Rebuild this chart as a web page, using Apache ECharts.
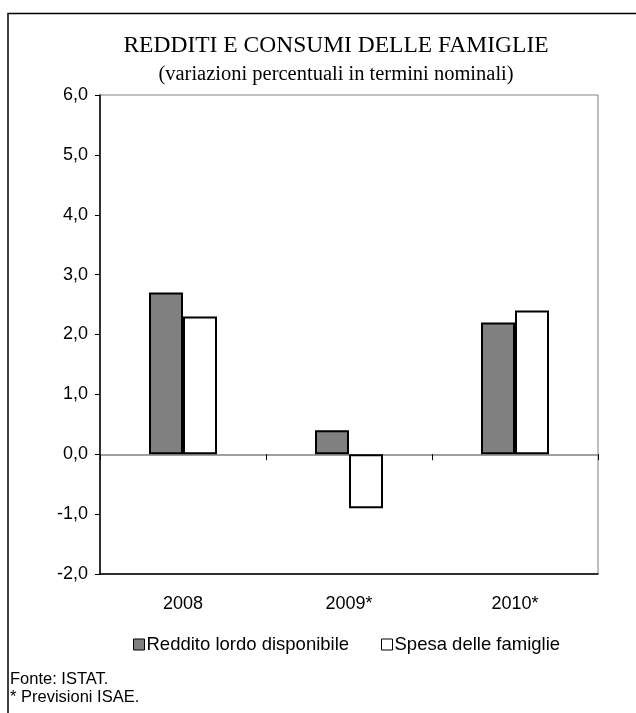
<!DOCTYPE html>
<html>
<head>
<meta charset="utf-8">
<script src="https://cdn.jsdelivr.net/npm/echarts@6/dist/echarts.min.js"></script>
<style>
html,body{margin:0;padding:0;background:#fff;}
#c{width:636px;height:713px;}
</style>
</head>
<body>
<div id="c"></div>
<script>
var categories = ['2008', '2009*', '2010*'];
var reddito = [2.7, 0.4, 2.2];
var spesa = [2.3, -0.9, 2.4];
var seriesNames = ['Reddito lordo disponibile', 'Spesa delle famiglie'];
var yTicks = [-2, -1, 0, 1, 2, 3, 4, 5, 6];

var chart = echarts.init(document.getElementById('c'), null, {renderer: 'canvas'});
var sans = 'Arial, "Liberation Sans", sans-serif';
var serif = '"Times New Roman", "Liberation Serif", serif';
chart.setOption({
  animation: false,
  backgroundColor: '#fff',
  title: [
    {text: 'REDDITI E CONSUMI DELLE FAMIGLIE', left: 331, top: 29, textAlign: 'center',
     textStyle: {fontFamily: serif, fontSize: 23.5, fontWeight: 'normal', color: '#000'}},
    {text: '(variazioni percentuali in termini nominali)', left: 331, top: 59, textAlign: 'center',
     textStyle: {fontFamily: serif, fontSize: 20.5, fontWeight: 'normal', color: '#000'}},
    {text: 'Fonte: ISTAT.\n* Previsioni ISAE.', left: 5, top: 665,
     textStyle: {fontFamily: sans, fontSize: 16.5, fontWeight: 'normal', color: '#000', lineHeight: 18}}
  ],
  graphic: [
    {type: 'polyline', shape: {points: [[8, 713], [8, 13.5], [636, 13.5]]},
     style: {stroke: '#000', lineWidth: 1.5, fill: null}, silent: true}
  ],
  legend: [
    {data: [seriesNames[0]], left: 128, top: 630, icon: 'rect', itemWidth: 11, itemHeight: 11, itemGap: 0,
     textStyle: {fontFamily: sans, fontSize: 18.5, color: '#000', padding: [0, 0, 0, -3]},
     itemStyle: {borderColor: '#000', borderWidth: 1}},
    {data: [seriesNames[1]], left: 376, top: 630, icon: 'rect', itemWidth: 11, itemHeight: 11, itemGap: 0,
     textStyle: {fontFamily: sans, fontSize: 18.5, color: '#000', padding: [0, 0, 0, -3]},
     itemStyle: {borderColor: '#000', borderWidth: 1}}
  ],
  grid: {left: 100, right: 38, top: 95, bottom: 139, show: true, borderColor: '#808080', borderWidth: 1, backgroundColor: 'transparent'},
  xAxis: [
    {type: 'category', data: categories, position: 'bottom',
     axisLine: {onZero: false, lineStyle: {color: '#000', width: 1.5}},
     axisTick: {show: false},
     axisLabel: {fontFamily: sans, fontSize: 18, color: '#000', margin: 21}},
    {type: 'category', data: categories, position: 'bottom',
     axisLine: {onZero: true, onZeroAxisIndex: 0, lineStyle: {color: '#808080', width: 1.5}},
     axisTick: {show: true, inside: false, length: 6, lineStyle: {color: '#000', width: 1}},
     axisLabel: {show: false}}
  ],
  yAxis: {
    type: 'value', min: -2, max: 6, interval: 1,
    axisLine: {show: true, lineStyle: {color: '#000', width: 1.5}},
    axisTick: {show: true, length: 5, lineStyle: {color: '#000'}},
    splitLine: {show: false},
    axisLabel: {fontFamily: sans, fontSize: 18, color: '#000', margin: 12,
      formatter: function (v) { return yTicks.indexOf(v) >= 0 ? v.toFixed(1).replace('.', ',') : ''; }}
  },
  series: [
    {name: seriesNames[0], type: 'bar', data: reddito, barWidth: 34, barGap: '0%',
     itemStyle: {color: '#808080', borderColor: '#000', borderWidth: 2}},
    {name: seriesNames[1], type: 'bar', data: spesa, barWidth: 34, barGap: '0%',
     itemStyle: {color: '#fff', borderColor: '#000', borderWidth: 2}}
  ]
});
</script>
</body>
</html>
